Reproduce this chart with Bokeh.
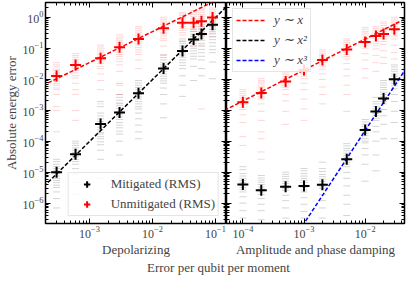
from bokeh.plotting import figure
from bokeh.models import LogAxis, FixedTicker, Legend, LegendItem, Range1d, Label, CustomJSTickFormatter
from bokeh.layouts import row, column
from bokeh.embed import file_html
from bokeh.resources import INLINE

FONT = "Liberation Serif"

# ---------------- data ----------------
dep_x = [3e-4, 6e-4, 1.5e-3, 3e-3, 6e-3, 1.5e-2, 3e-2, 4.5e-2, 6e-2, 9e-2]
dep_mit_rms = [1.0e-5, 3.8e-5, 3.6e-4, 8.5e-4, 3.5e-3, 0.022, 0.081, 0.19, 0.29, 0.57]
dep_unmit_rms = [0.0126, 0.029, 0.048, 0.107, 0.20, 0.44, 0.66, 0.66, 0.74, 0.98]

dep_unmit_samples = [
    [0.034, 0.029, 0.025, 0.021, 0.019, 0.016, 0.0148, 0.013, 0.011, 0.0095, 0.0085, 0.0072, 0.0064, 0.0052, 0.0046, 0.0032, 0.0013, 9.7e-4, 2.0e-4],
    [0.067, 0.058, 0.051, 0.044, 0.039, 0.034, 0.029, 0.025, 0.022, 0.019, 0.016, 0.013, 0.011, 0.0074, 0.0046, 0.0032, 9.7e-4, 4.7e-4],
    [0.126, 0.11, 0.095, 0.082, 0.072, 0.063, 0.055, 0.048, 0.042, 0.036, 0.032, 0.026, 0.022, 0.0148, 0.0091, 0.0046, 0.0016],
    [0.27, 0.23, 0.20, 0.175, 0.154, 0.135, 0.117, 0.10, 0.089, 0.075, 0.063, 0.054, 0.045, 0.037, 0.029, 0.018, 0.0064, 0.0032, 0.0016],
    [0.50, 0.44, 0.38, 0.33, 0.29, 0.25, 0.22, 0.19, 0.166, 0.145, 0.126, 0.105, 0.089, 0.075, 0.063, 0.042, 0.022],
    [1.0, 0.87, 0.76, 0.66, 0.58, 0.51, 0.44, 0.38, 0.33, 0.29, 0.25, 0.21, 0.18, 0.117, 0.063],
    [1.41, 1.28, 1.15, 1.0, 0.87, 0.76, 0.66, 0.58, 0.50, 0.44, 0.38, 0.32, 0.27, 0.166],
    [1.62, 1.41, 1.23, 1.07, 0.93, 0.81, 0.71, 0.60, 0.50, 0.42, 0.35, 0.27, 0.20, 0.117],
    [1.86, 1.62, 1.41, 1.23, 1.07, 0.93, 0.81, 0.68, 0.58, 0.49, 0.41, 0.32, 0.25, 0.126, 1.1e-3],
    [2.0, 1.75, 1.5, 1.3, 1.15, 1.0, 0.87, 0.74, 0.62, 0.51, 0.41, 0.31, 0.23],
]
dep_mit_samples = [
    [2.6e-5, 2.2e-5, 1.8e-5, 1.5e-5, 1.3e-5, 1.1e-5, 9.0e-6, 7.5e-6, 6.3e-6, 5.4e-6, 4.6e-6, 3.8e-6, 3.2e-6, 2.3e-6, 1.4e-6, 7.0e-7],
    [1.0e-4, 8.6e-5, 7.3e-5, 6.1e-5, 5.1e-5, 4.3e-5, 3.6e-5, 3.1e-5, 2.6e-5, 2.2e-5, 1.8e-5, 1.3e-5, 8.4e-6, 4.6e-6, 1.9e-6],
    [1.9e-3, 1.3e-3, 8.1e-4, 6.5e-4, 5.3e-4, 4.3e-4, 3.5e-4, 2.8e-4, 2.3e-4, 1.9e-4, 1.7e-4, 1.4e-4, 1.2e-4, 9.5e-5, 7.7e-5, 5.1e-5, 2.6e-5, 6.3e-6],
    [7.4e-3, 3.2e-3, 2.6e-3, 2.1e-3, 1.7e-3, 1.4e-3, 1.15e-3, 9.2e-4, 7.5e-4, 6.1e-4, 5.0e-4, 4.0e-4, 3.3e-4, 2.7e-4, 2.1e-4, 1.7e-4, 1.0e-4, 3.6e-5, 7.8e-6],
    [9.1e-3, 7.6e-3, 6.4e-3, 5.4e-3, 4.6e-3, 3.8e-3, 3.2e-3, 2.7e-3, 2.3e-3, 1.9e-3, 1.6e-3, 1.3e-3, 1.1e-3, 8.1e-4, 5.3e-4, 3.3e-4, 2.0e-4, 1.2e-4],
    [0.059, 0.050, 0.042, 0.035, 0.029, 0.025, 0.021, 0.018, 0.0148, 0.0125, 0.0104, 0.0088, 0.0074, 0.0052, 0.0032, 0.0016, 5.7e-4],
    [0.20, 0.17, 0.144, 0.12, 0.10, 0.085, 0.072, 0.061, 0.051, 0.042, 0.034, 0.028, 0.022, 0.0129, 0.0064, 0.0028],
    [0.41, 0.35, 0.29, 0.24, 0.20, 0.17, 0.144, 0.12, 0.10, 0.082, 0.067, 0.055, 0.045, 0.026, 0.0091],
    [0.50, 0.42, 0.35, 0.30, 0.25, 0.21, 0.18, 0.145, 0.117, 0.092, 0.072, 0.055, 0.042, 0.022, 0.0129],
    [0.81, 0.69, 0.58, 0.49, 0.41, 0.35, 0.29, 0.24, 0.19, 0.15, 0.117, 0.09, 0.072, 0.036, 0.0104],
]

amp_x = [1e-4, 2e-4, 5e-4, 1e-3, 2e-3, 5e-3, 1e-2, 1.5e-2, 2e-2, 3e-2]
amp_mit_rms = [4.0e-6, 2.6e-6, 3.4e-6, 3.6e-6, 3.9e-6, 2.6e-5, 2.3e-4, 9.1e-4, 2.4e-3, 1.0e-2]
amp_unmit_rms = [1.8e-3, 3.6e-3, 8.5e-3, 0.020, 0.042, 0.091, 0.16, 0.25, 0.29, 0.41]

amp_unmit_samples = [
    [4.6e-3, 4.0e-3, 3.5e-3, 3.0e-3, 2.6e-3, 2.3e-3, 2.0e-3, 1.75e-3, 1.5e-3, 1.25e-3, 1.05e-3, 7.1e-4, 4.0e-4, 1.4e-4, 7.3e-5],
    [0.0104, 0.009, 0.008, 0.007, 0.006, 0.0053, 0.0046, 0.004, 0.0032, 0.0027, 0.0023, 0.0016, 9.2e-4, 4.7e-4, 2.0e-4, 1.2e-4, 4.5e-5, 2.6e-5],
    [0.021, 0.018, 0.016, 0.014, 0.012, 0.0105, 0.0091, 0.0077, 0.0064, 0.0055, 0.0046, 0.0032, 0.002, 9.2e-4, 3.5e-4],
    [0.045, 0.039, 0.034, 0.030, 0.026, 0.022, 0.019, 0.017, 0.0148, 0.0125, 0.0104, 0.0074, 0.0046, 0.0023, 1.1e-3, 4.7e-4],
    [0.089, 0.077, 0.067, 0.058, 0.051, 0.045, 0.039, 0.034, 0.029, 0.025, 0.021, 0.0148, 0.0098, 0.0056, 0.0032, 0.0016],
    [0.20, 0.175, 0.154, 0.134, 0.117, 0.10, 0.089, 0.075, 0.063, 0.054, 0.045, 0.032, 0.021, 0.0129, 0.0064, 0.0032, 9.2e-4],
    [0.47, 0.41, 0.35, 0.31, 0.27, 0.23, 0.20, 0.17, 0.144, 0.12, 0.10, 0.067, 0.042, 0.022, 0.011],
    [0.50, 0.44, 0.38, 0.33, 0.29, 0.24, 0.20, 0.17, 0.144, 0.12, 0.095, 0.059, 0.034, 0.018],
    [0.71, 0.62, 0.54, 0.47, 0.41, 0.35, 0.29, 0.24, 0.20, 0.165, 0.134, 0.083, 0.051, 0.032],
    [1.0, 0.87, 0.76, 0.66, 0.58, 0.51, 0.44, 0.37, 0.31, 0.25, 0.20, 0.126, 0.072, 0.045],
]
amp_mit_samples = [
    [1.5e-5, 1.2e-5, 9.0e-6, 7.5e-6, 6.3e-6, 5.4e-6, 4.6e-6, 3.8e-6, 3.2e-6, 2.7e-6, 2.3e-6, 1.6e-6, 1.0e-6, 5.7e-7, 3.3e-7],
    [7.8e-6, 6.5e-6, 5.5e-6, 4.7e-6, 4.0e-6, 3.3e-6, 2.8e-6, 2.3e-6, 1.9e-6, 1.4e-6, 9.2e-7, 5.7e-7, 2.9e-7],
    [1.0e-5, 8.5e-6, 7.3e-6, 6.1e-6, 5.1e-6, 4.3e-6, 3.6e-6, 3.0e-6, 2.6e-6, 1.8e-6, 1.2e-6, 7.0e-7, 3.3e-7],
    [1.3e-5, 1.1e-5, 9.0e-6, 7.5e-6, 6.3e-6, 5.4e-6, 4.6e-6, 3.8e-6, 3.2e-6, 2.7e-6, 2.3e-6, 1.5e-6, 9.2e-7, 5.4e-7, 3.3e-7],
    [2.1e-5, 1.3e-5, 1.05e-5, 8.4e-6, 7.1e-6, 6.0e-6, 5.0e-6, 4.2e-6, 3.5e-6, 3.0e-6, 1.9e-6, 1.2e-6, 7.0e-7, 3.3e-7],
    [8.3e-5, 7.0e-5, 5.8e-5, 4.9e-5, 4.1e-5, 3.4e-5, 2.9e-5, 2.5e-5, 2.1e-5, 1.8e-5, 1.5e-5, 9.8e-6, 6.3e-6, 3.6e-6, 1.8e-6, 9.2e-7, 4.0e-7],
    [5.0e-4, 4.2e-4, 3.5e-4, 3.0e-4, 2.5e-4, 2.1e-4, 1.8e-4, 1.5e-4, 1.2e-4, 1.0e-4, 8.8e-5, 5.8e-5, 3.6e-5, 1.8e-5, 5.1e-6],
    [2.6e-3, 1.9e-3, 1.6e-3, 1.3e-3, 1.1e-3, 9.2e-4, 7.8e-4, 6.6e-4, 5.5e-4, 4.7e-4, 3.0e-4, 2.0e-4, 1.0e-4, 3.6e-5, 1.1e-5],
    [9.1e-3, 7.6e-3, 6.4e-3, 5.4e-3, 4.6e-3, 3.8e-3, 3.2e-3, 2.7e-3, 2.3e-3, 1.9e-3, 1.6e-3, 1.05e-3, 6.6e-4, 3.5e-4, 1.2e-4],
    [0.029, 0.025, 0.021, 0.018, 0.0148, 0.0125, 0.0104, 0.0088, 0.0074, 0.0061, 0.0049, 0.0032, 1.9e-3, 9.2e-4, 4.0e-4, 1.2e-4],
]

# reference power-law fits (end points of the straight lines in log-log space)
dep_lin_x, dep_lin_y = [1e-4, 1.0], [3.45e-3, 34.5]        # y ~ x
dep_quad_x, dep_quad_y = [1e-4, 1.0], [9.75e-7, 97.5]      # y ~ x^2
amp_lin_x, amp_lin_y = [1e-5, 1.0], [1.98e-4, 19.8]        # y ~ x
amp_cub_x, amp_cub_y = [1e-4, 1.0], [2.2e-10, 220.0]       # y ~ x^3
off_x, off_y = [1e-9, 2e-9], [1e-12, 2e-12]                # legend-only black line (outside view)

y_limits = (2.2e-7, 3.0)
dep_limits = (2.0e-4, 0.15)
amp_limits = (5.4e-5, 0.044)

major = [10.0 ** e for e in range(-8, 2)]
minor = [m * 10.0 ** e for e in range(-8, 2) for m in range(2, 10)]

FH = 221


def style_axis(ax, labels=True):
    ax.ticker = FixedTicker(ticks=major, minor_ticks=minor)
    ax.major_tick_in = 5
    ax.major_tick_out = 0
    ax.minor_tick_in = 3
    ax.minor_tick_out = 0
    ax.major_tick_line_width = 1
    ax.minor_tick_line_width = 1
    ax.axis_line_color = None
    ax.major_label_text_font = FONT
    ax.axis_label_text_font = FONT
    ax.axis_label_text_font_size = "13px"
    ax.axis_label_text_font_style = "normal"
    ax.axis_label_standoff = 1
    if labels:
        ax.major_label_text_font_size = "12px"
        ax.major_label_standoff = 2
    else:
        ax.formatter = CustomJSTickFormatter(code="return ''")
        ax.major_label_text_font_size = "1px"
        ax.major_label_standoff = 0


def make_fig(xlim, fw, bl, br):
    p = figure(x_axis_type="log", y_axis_type="log",
               x_range=Range1d(*xlim), y_range=Range1d(*y_limits),
               frame_width=fw, frame_height=FH,
               min_border_left=bl, min_border_right=br,
               min_border_top=2, min_border_bottom=0,
               toolbar_location=None, output_backend="svg",
               outline_line_color="black", outline_line_width=1.5,
               background_fill_color="white", border_fill_color="white")
    p.grid.visible = False
    p.add_layout(LogAxis(), "above")
    p.add_layout(LogAxis(), "right")
    return p


def flat(xs, samples):
    fx, fy = [], []
    for x, col in zip(xs, samples):
        for v in col:
            fx.append(x)
            fy.append(v)
    return fx, fy


# ---------------- left panel ----------------
p1 = make_fig(dep_limits, 181, 38, 0)
style_axis(p1.below[0], True)
style_axis(p1.above[0], False)
style_axis(p1.left[0], True)
style_axis(p1.right[0], False)
p1.below[0].axis_label = "Depolarizing"
p1.left[0].axis_label = "Absolute energy error"

ux, uy = flat(dep_x, dep_unmit_samples)
mx, my = flat(dep_x, dep_mit_samples)
p1.scatter(ux, uy, marker="dash", size=7, line_color="red", line_alpha=0.17, line_width=1)
p1.scatter(mx, my, marker="dash", size=7, line_color="black", line_alpha=0.17, line_width=1)
p1.line(dep_lin_x, dep_lin_y, line_color="red", line_dash="4 2", line_width=1.5)
p1.line(dep_quad_x, dep_quad_y, line_color="black", line_dash="4 2", line_width=1.5)
r_mit = p1.scatter(dep_x, dep_mit_rms, marker="cross", size=11, line_color="black", line_width=2)
r_unm = p1.scatter(dep_x, dep_unmit_rms, marker="cross", size=11, line_color="red", line_width=2)

leg1 = Legend(items=[LegendItem(label="Mitigated (RMS)", renderers=[r_mit]),
                     LegendItem(label="Unmitigated (RMS)", renderers=[r_unm])],
              location="bottom_right", margin=7, padding=3, spacing=4,
              glyph_width=30, glyph_height=16, label_height=16, label_standoff=9,
              label_text_font=FONT, label_text_font_size="13px",
              background_fill_color="white", background_fill_alpha=0.85,
              border_line_color="#cccccc", border_line_width=1)
p1.add_layout(leg1, "center")

# ---------------- right panel ----------------
p2 = make_fig(amp_limits, 178, 0, 2)
style_axis(p2.below[0], True)
style_axis(p2.above[0], False)
style_axis(p2.left[0], False)
style_axis(p2.right[0], False)
p2.below[0].axis_label = "Amplitude and phase damping"

ux, uy = flat(amp_x, amp_unmit_samples)
mx, my = flat(amp_x, amp_mit_samples)
p2.scatter(ux, uy, marker="dash", size=7, line_color="red", line_alpha=0.17, line_width=1)
p2.scatter(mx, my, marker="dash", size=7, line_color="black", line_alpha=0.17, line_width=1)
l_lin = p2.line(amp_lin_x, amp_lin_y, line_color="red", line_dash="4 2", line_width=1.5)
l_quad = p2.line(off_x, off_y, line_color="black", line_dash="4 2", line_width=1.5)
l_cub = p2.line(amp_cub_x, amp_cub_y, line_color="blue", line_dash="4 2", line_width=1.5)
p2.scatter(amp_x, amp_mit_rms, marker="cross", size=11, line_color="black", line_width=2)
p2.scatter(amp_x, amp_unmit_rms, marker="cross", size=11, line_color="red", line_width=2)

leg2 = Legend(items=[LegendItem(label="y ∼ x", renderers=[l_lin]),
                     LegendItem(label="y ∼ x²", renderers=[l_quad]),
                     LegendItem(label="y ∼ x³", renderers=[l_cub])],
              location="top_left", margin=6, padding=3, spacing=4,
              glyph_width=29, glyph_height=16, label_height=16, label_standoff=9,
              label_text_font=FONT, label_text_font_size="13px",
              label_text_font_style="italic",
              background_fill_color="white", background_fill_alpha=0.85,
              border_line_color="#cccccc", border_line_width=1)
p2.add_layout(leg2, "center")

# ---------------- shared x label ----------------
p3 = figure(width=399, height=16, x_range=Range1d(0, 1), y_range=Range1d(0, 1),
            toolbar_location=None, output_backend="svg", outline_line_color=None,
            min_border=0, border_fill_color="white")
p3.axis.visible = False
p3.grid.visible = False
p3.add_layout(Label(x=218, y=8, x_units="screen", y_units="screen",
                    text="Error per qubit per moment", text_align="center",
                    text_baseline="middle", text_font=FONT, text_font_size="13px"))

layout = column(row(p1, p2), p3)
open("out.html", "w").write(file_html(layout, INLINE))
